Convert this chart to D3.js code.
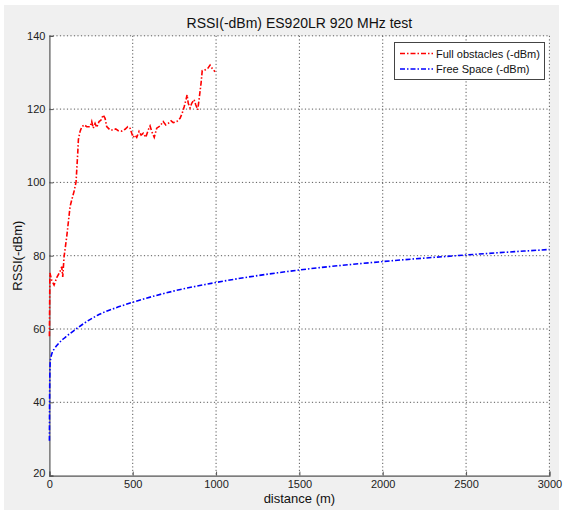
<!DOCTYPE html>
<html><head><meta charset="utf-8">
<script src="https://cdn.jsdelivr.net/npm/d3@7"></script>
<style>body{margin:0;background:#fff}svg{display:block}text{font-family:"Liberation Sans",Arial,sans-serif}</style>
</head><body>
<svg id="c" width="563" height="514"></svg>
<script>
const title = "RSSI(-dBm) ES920LR 920 MHz test";
const xLabel = "distance (m)";
const yLabel = "RSSI(-dBm)";
const xTicks = [0, 500, 1000, 1500, 2000, 2500, 3000];
const yTicks = [20, 40, 60, 80, 100, 120, 140];
const seriesNames = ["Full obstacles (-dBm)", "Free Space (-dBm)"];
const seriesColors = ["#ff0000", "#0000ff"];

// Full obstacles: [distance m, RSSI -dBm]
const fullObstacles = [
[0,58],[3,75.3],[14,73.3],[28,72],[44,74],[64,75.7],[74,77],[80,74.2],[88,79.7],[104,85.2],
[124,93.4],[134,95.2],[150,97.9],[160,100.2],[170,108],[174,111.7],[184,113.9],[194,115.1],
[209,115.7],[224,115.2],[244,115.2],[254,116.6],[263,114.8],[274,116.1],[284,115],[298,116.6],
[310,117],[323,118.4],[334,117.5],[344,115.2],[364,114.3],[383,114.3],[398,114.6],[413,114.1],
[434,114],[454,114.5],[470,115.2],[484,114.8],[494,113.4],[503,112.3],[514,112.9],[524,112.3],
[538,113.9],[550,112.9],[563,113.4],[578,112.3],[593,114.3],[604,115.4],[614,113.9],[629,112.3],
[644,114.8],[664,115.4],[683,116.6],[698,115.7],[713,116.1],[730,116.8],[743,116.3],[764,116.6],
[784,117.5],[797,118.9],[809,120.7],[820,122.6],[826,123.9],[833,121.6],[844,120.3],[854,121.6],
[868,122.6],[878,121.2],[890,119.8],[898,122.6],[910,127.1],[917,130.5],[934,130.7],[950,131.1],
[964,132],[977,131.1],[994,130.2]
];
// Free space: [distance m, RSSI -dBm]
const freeSpace = [
[0,29.5],[2,45],[5,51],[15,53.3],[30,54.6],[50,55.8],[100,57.9],[160,60],[200,61.3],[300,64],
[400,65.8],[500,67.3],[750,70.4],[1000,72.7],[1500,76.1],[2000,78.4],[2500,80.2],[3000,81.7]
];

const svg = d3.select("#c");
const L = 49.4, R = 549.4, T = 35.8, B = 475.6;
const x = d3.scaleLinear().domain([0, 3000]).range([L, R]);
const y = d3.scaleLinear().domain([20, 140]).range([B, T]);

svg.append("rect").attr("x", 4).attr("y", 5).attr("width", 555).attr("height", 505).attr("fill", "#f0f0f0");
svg.append("rect").attr("x", L).attr("y", T).attr("width", R - L).attr("height", B - T).attr("fill", "#fff");

// grid
const g = svg.append("g");
g.selectAll("line.gx").data(xTicks.filter(d => d > 0)).join("line")
  .attr("x1", d => x(d)).attr("x2", d => x(d)).attr("y1", T).attr("y2", B)
  .attr("stroke", "#5a5a5a").attr("stroke-width", 1).attr("stroke-dasharray", "1.2,2.3");
g.selectAll("line.gy").data(yTicks.filter(d => d > 20)).join("line")
  .attr("y1", d => y(d)).attr("y2", d => y(d)).attr("x1", L).attr("x2", R)
  .attr("stroke", "#5a5a5a").attr("stroke-width", 1).attr("stroke-dasharray", "1.2,2.3");

// axes
const xa = svg.append("g").attr("transform", `translate(0,${B})`)
  .call(d3.axisBottom(x).tickValues(xTicks).tickSize(-4).tickPadding(6).tickFormat(d3.format("d")));
const ya = svg.append("g").attr("transform", `translate(${L},0)`)
  .call(d3.axisLeft(y).tickValues(yTicks).tickSize(-4).tickPadding(4).tickFormat(d3.format("d")));
[xa, ya].forEach(a => {
  a.select(".domain").attr("stroke", "#555").attr("stroke-width", 1.2);
  a.selectAll(".tick line").attr("stroke", "#555");
  a.selectAll("text").attr("font-size", 11).attr("fill", "#222").style("font-family", '"Liberation Sans",Arial,sans-serif');
});
xa.selectAll(".tick text").attr("dy", "0.6em");
ya.selectAll(".tick").filter(d => d === 20).select("text").attr("dy", "0.1em");

// lines
const line = d3.line().x(d => x(d[0])).y(d => y(d[1]));
const dash = "5,2,1.5,2";
svg.append("path").datum(freeSpace).attr("d", line.curve(d3.curveMonotoneX)).attr("fill", "none")
  .attr("stroke", seriesColors[1]).attr("stroke-width", 1.6).attr("stroke-dasharray", dash);
svg.append("path").datum(fullObstacles).attr("d", line.curve(d3.curveLinear)).attr("fill", "none")
  .attr("stroke", seriesColors[0]).attr("stroke-width", 1.6).attr("stroke-dasharray", dash);

// title and labels
svg.append("text").attr("x", (L + R) / 2).attr("y", 28).attr("text-anchor", "middle")
  .attr("font-size", 14).attr("fill", "#111").text(title);
svg.append("text").attr("x", (L + R) / 2).attr("y", 503).attr("text-anchor", "middle")
  .attr("font-size", 13).attr("fill", "#111").text(xLabel);
svg.append("text").attr("transform", `translate(22,${(T + B) / 2}) rotate(-90)`).attr("text-anchor", "middle")
  .attr("font-size", 13).attr("fill", "#111").text(yLabel);

// legend
const lg = svg.append("g");
lg.append("rect").attr("x", 394.5).attr("y", 42.5).attr("width", 150).attr("height", 37)
  .attr("fill", "#fff").attr("stroke", "#444").attr("stroke-width", 1);
seriesNames.forEach((n, i) => {
  const yy = 53.5 + i * 15.5;
  lg.append("line").attr("x1", 400).attr("x2", 433).attr("y1", yy).attr("y2", yy)
    .attr("stroke", seriesColors[i]).attr("stroke-width", 1.6).attr("stroke-dasharray", dash);
  lg.append("text").attr("x", 436).attr("y", yy + 4).attr("font-size", 11).attr("fill", "#111").text(n);
});
</script>
</body></html>
